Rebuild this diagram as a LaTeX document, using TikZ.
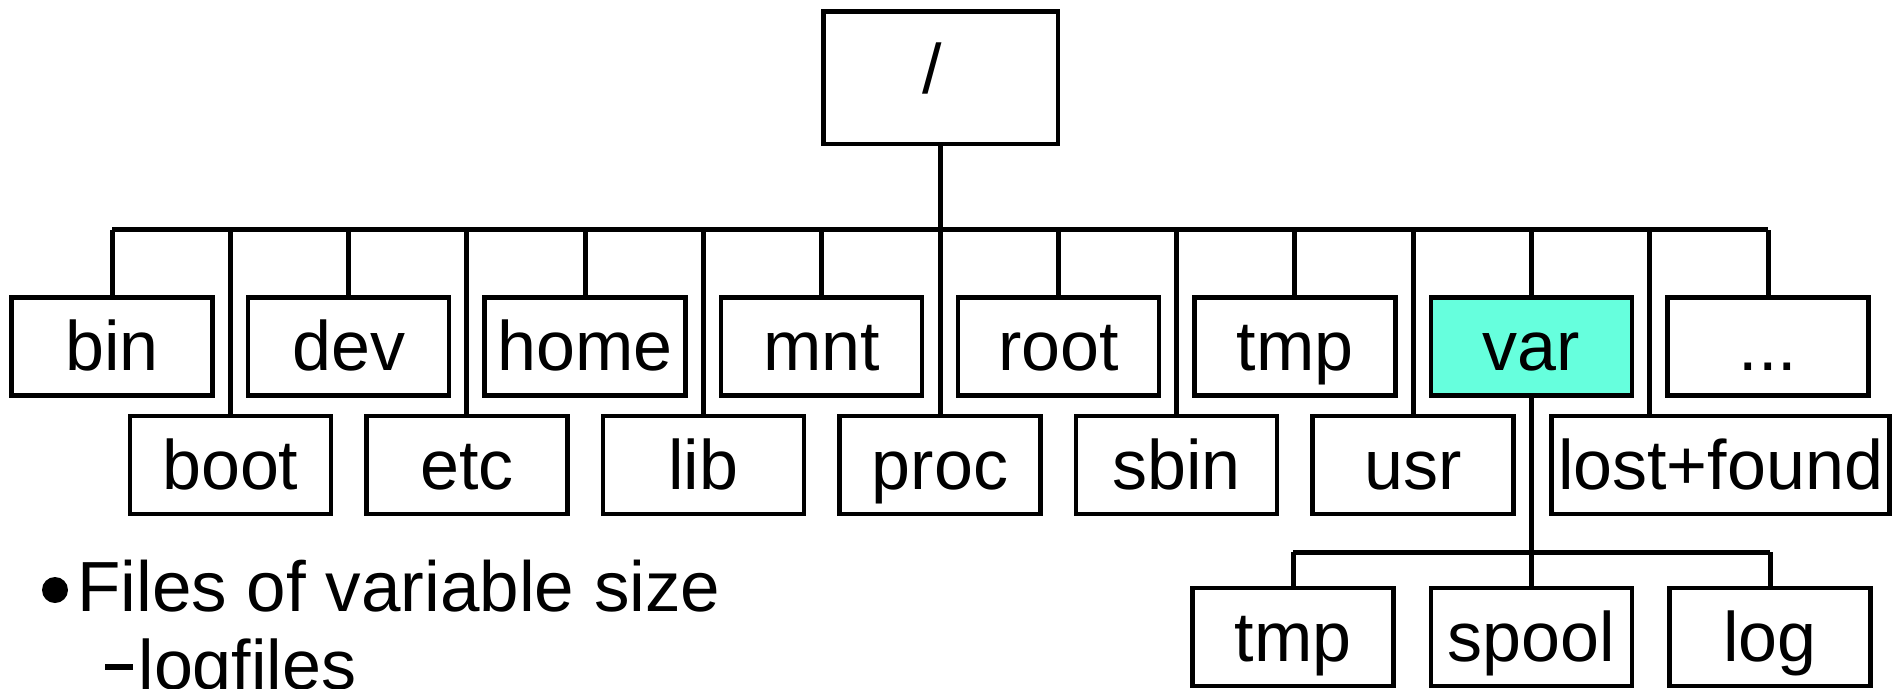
\documentclass[tikz,border=0pt]{standalone}
\usepackage{fontspec}
\setmainfont{Liberation Sans}
\definecolor{varfill}{RGB}{102,255,221}
\begin{document}
\begin{tikzpicture}[x=1pt,y=-1pt,
  dirbox/.style={draw, line width=4.5pt, minimum width=201pt, minimum height=98pt,
    inner sep=0pt, font=\fontsize{70}{82}\selectfont, text height=48pt, text depth=0pt},
  link/.style={line width=5pt},
  bodytext/.style={anchor=base west, inner sep=0pt, font=\fontsize{71}{85}\selectfont}]
\useasboundingbox (0,0) rectangle (1900,688);
\clip (0,0) rectangle (1900,688);
\coordinate (bus) at (0,229.5);
\coordinate (subbus) at (0,552);
% root
\node[dirbox, minimum width=234.5pt, minimum height=132.5pt, text height=31pt] (rootdir) at (940.5,77.5) {\kern-16pt/};
% top row
\node[dirbox] (bin)  at (112,346.5) {bin};
\node[dirbox] (dev)  at (348.6,346.5) {dev};
\node[dirbox] (home) at (585.1,346.5) {home};
\node[dirbox] (mnt)  at (821.7,346.5) {mnt};
\node[dirbox] (root) at (1058.3,346.5) {root};
\node[dirbox] (tmp)  at (1294.9,346.5) {tmp};
\node[dirbox, fill=varfill] (var) at (1531.4,346.5) {var};
\node[dirbox] (dots) at (1768,346.5) {...};
% bottom row
\node[dirbox] (boot) at (230.3,465) {boot};
\node[dirbox] (etc)  at (466.9,465) {etc};
\node[dirbox] (lib)  at (703.4,465) {lib};
\node[dirbox] (proc) at (940,465) {proc};
\node[dirbox] (sbin) at (1176.6,465) {sbin};
\node[dirbox] (usr)  at (1413.1,465) {usr};
\node[dirbox, minimum width=338pt] (lostfound) at (1720.5,465) {lost+found};
% var children
\node[dirbox] (vtmp)  at (1293,637) {tmp};
\node[dirbox] (spool) at (1531.4,637) {spool};
\node[dirbox] (log)   at (1770,637) {log};
% connectors
\draw[link] (rootdir.south) -- (rootdir.south |- bus);
\draw[link] (bin.north |- bus) -- (dots.north |- bus);
\foreach \n in {bin,dev,home,mnt,root,tmp,var,dots,boot,etc,lib,proc,sbin,usr}
  \draw[link] (\n.north) -- (\n.north |- bus);
\draw[link] ([xshift=-70.8pt]lostfound.north) -- ([xshift=-70.8pt]lostfound.north |- bus);
\draw[link] (var.south) -- (var.south |- subbus);
\draw[link] (vtmp.north |- subbus) -- (log.north |- subbus);
\foreach \n in {vtmp,spool,log}
  \draw[link] (\n.north) -- (\n.north |- subbus);
% text
\node[circle, fill, minimum size=26pt, inner sep=0pt] (bullet) at (55,590) {};
\node[bodytext] (files) at (77,611) {Files of variable size};
\node[bodytext, font=\fontsize{70}{84}\selectfont] (logf) at (105,689) {\rule[19pt]{28pt}{6pt}\hspace{5.3pt}logfiles};
\end{tikzpicture}
\end{document}
